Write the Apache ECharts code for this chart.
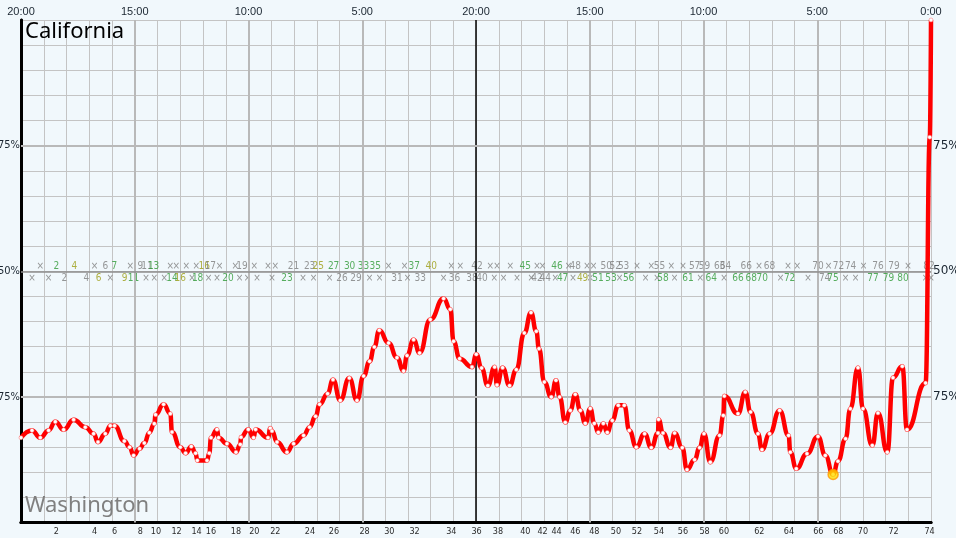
<!DOCTYPE html>
<html><head><meta charset="utf-8">
<script src="https://cdn.jsdelivr.net/npm/echarts@6/dist/echarts.min.js"></script>
<style>html,body{margin:0;padding:0;background:#f1f8fc;}#c{width:956px;height:538px;}</style>
</head><body><div id="c"></div>
<script>
const topTickLabels = ['20:00','15:00','10:00','5:00','20:00','15:00','10:00','5:00','0:00'];
const yTickValues = [25, 50, 75];
const yTickLabels = ['75%', '50%', '75%'];

const pointHours = [0.000,0.484,0.848,1.213,1.508,1.873,2.312,2.826,3.191,3.385,
3.705,3.925,4.114,4.541,4.774,4.949,5.213,5.420,5.640,5.859,
5.916,6.268,6.563,6.637,7.002,7.235,7.486,7.675,7.749,8.176,
8.277,8.352,8.615,8.686,9.055,9.451,9.640,9.670,9.991,10.224,
10.312,10.857,10.958,11.033,11.253,11.692,11.982,12.422,12.686,12.949,
13.125,13.477,13.714,14.035,14.431,14.769,15.060,15.323,15.530,15.749,
16.158,16.527,16.818,16.967,17.257,17.521,17.991,18.576,18.870,19.015,
19.279,19.824,20.013,20.246,20.519,20.818,20.923,21.169,21.477,21.771,
22.123,22.418,22.651,22.769,23.002,23.310,23.516,23.675,23.925,24.145,
24.365,24.585,24.804,25.024,25.200,25.376,25.596,25.771,25.991,26.255,
26.519,26.738,27.046,27.411,27.705,28.000,28.026,28.220,28.554,28.730,
29.068,29.275,29.609,29.829,30.022,30.299,30.708,30.870,30.914,31.516,
31.837,32.070,32.396,32.571,32.905,33.345,33.741,33.815,34.079,34.549,
35.033,35.354,35.697,35.912,36.246,36.453,36.791,37.011,37.420,37.670,
38.079,38.330,38.738,38.945,39.763,39.947,40.000];
const pointPct = [16.87,18.33,16.87,18.33,20.06,18.47,20.46,18.98,17.67,16.00,
17.67,19.26,19.26,16.20,15.00,13.35,14.68,15.80,17.87,19.66,
21.45,23.51,21.65,17.99,15.00,13.80,15.14,13.80,12.35,12.35,
13.80,16.87,18.53,16.87,15.68,14.00,15.54,16.99,18.53,16.87,
18.53,16.87,18.78,18.19,16.00,14.00,15.68,17.33,18.98,21.12,
23.51,25.64,28.43,24.30,28.75,24.30,29.14,32.07,34.92,38.25,
35.72,32.81,30.14,33.21,36.39,33.73,40.38,44.56,42.43,36.06,
32.61,30.94,33.47,30.74,27.23,30.94,27.35,30.82,27.23,30.42,
37.71,41.77,38.05,34.60,27.95,24.96,28.29,24.96,19.92,22.31,
25.50,22.31,19.72,22.71,19.72,17.93,19.72,17.93,20.32,23.31,
23.31,18.33,15.00,17.67,14.88,17.79,20.52,17.79,14.88,17.79,
14.88,10.50,12.49,14.88,17.67,12.01,17.33,21.31,25.16,21.65,
25.96,21.97,17.67,14.48,17.67,22.31,17.33,14.00,10.70,13.69,
17.13,13.35,9.56,12.21,16.67,22.65,30.82,22.65,15.34,21.77,
14.00,28.82,31.08,18.47,27.75,76.69,100];
const highlightIndex = 132;

const bottomTickIdx = [2,4,6,8,10,12,14,16,18,20,22,24,26,28,30,32,34,36,38,40,42,44,46,48,50,52,54,56,58,60,62,64,66,68,70,72,74];
const bottomTickHours = [1.552,3.235,4.114,5.244,5.934,6.840,7.719,8.352,9.451,10.255,11.178,12.703,13.758,15.103,16.189,17.301,18.914,20.026,20.967,22.167,22.927,23.543,24.365,25.200,26.154,27.077,28.044,29.099,30.048,30.901,32.453,33.758,35.046,35.925,37.011,38.356,39.938];

const upperHours = [0.848,1.552,2.343,3.235,3.705,4.101,4.804,5.244,5.538,5.829,6.563,6.826,7.266,7.705,8.057,8.321,8.730,9.420,9.714,10.255,10.857,11.178,11.982,12.686,13.068,13.741,14.444,15.059,15.574,16.158,16.862,17.288,18.035,18.914,19.310,20.044,20.629,20.923,21.508,22.167,22.681,22.927,23.560,24.070,24.365,24.879,25.169,25.727,26.123,26.488,27.077,27.705,28.070,28.585,29.099,29.609,30.048,30.708,30.971,31.881,32.440,32.905,33.714,34.123,35.033,35.499,35.938,36.466,37.037,37.670,38.374,38.989,39.912];
const upperText = ['×','2','4','×','6','7','×','9','11','13','×','×','×','×','16','17','×','×','19','×','×','×','21','23','25','27','30','33','35','×','×','37','40','×','×','42','×','×','×','45','×','×','46','×','48','×','×','50','52','53','×','×','55','×','×','57','59','63','64','66','×','68','×','×','70','×','72','74','×','76','79','×','82'];
const upperColor = 'kgokkgkkkgkkkkokkkkkkkkkoggggkkgokkkkkkgkkgkkkkkkkkkkkkkkkkkkkkkkkkkkkkkkkg';

const lowerHours = [0.484,1.213,1.903,2.870,3.411,3.925,4.554,4.949,5.495,5.859,6.299,6.637,7.002,7.516,7.763,8.246,8.615,9.099,9.609,9.960,10.374,11.033,11.692,12.396,12.862,13.565,14.110,14.725,15.323,15.763,16.527,16.993,17.552,18.576,19.059,19.824,20.264,20.804,21.213,21.802,22.431,22.681,23.046,23.486,23.807,24.264,24.686,25.024,25.363,25.934,26.312,26.708,27.455,27.956,28.220,28.730,29.319,29.859,30.343,30.901,31.516,32.101,32.585,33.389,33.785,34.593,35.323,35.692,36.246,36.686,37.451,38.136,38.769,39.763,40.0];
const lowerText = ['×','×','2','4','6','×','9','11','×','×','×','14','16','×','18','×','×','20','×','×','×','×','23','×','×','×','26','29','×','×','31','×','33','×','36','38','40','×','×','×','×','42','44','×','47','×','49','×','51','53','×','56','×','×','58','×','61','×','64','×','66','68','70','×','72','×','74','75','×','×','77','79','80','×','×'];
const lowerColor = 'kkkkokogkkkgokgkkgkkkkgkkkkkkkkkkkkkkkkkkkkkgkokggkgkkgkgkgkgggkgkkgkkgggkk';

const colorMap = {k:'#7d7d7d', o:'#9c9c12', g:'#2f9a36'};
const UPPER_ROW = 51.06, LOWER_ROW = 48.67;

function bandData(hours, texts, colors, row) {
  return hours.map((h, i) => ({
    value: [h, row],
    label: {formatter: texts[i], color: colorMap[colors[i]]}
  }));
}

const gridColor = '#c4c4c4';
const majorColor = '#b9b9b9';
const markData = [];
[5,10,15,25,30,35].forEach(h => markData.push({xAxis: h, lineStyle: {color: majorColor, width: 2, type: 'solid'}}));
markData.push({xAxis: 20, lineStyle: {color: '#000', width: 1.5, type: 'solid'}});
markData.push({yAxis: 25, lineStyle: {color: majorColor, width: 2, type: 'solid'}});
markData.push({yAxis: 75, lineStyle: {color: majorColor, width: 2, type: 'solid'}});
markData.push({yAxis: 50, lineStyle: {color: '#8e8e8e', width: 1.5, type: 'solid'}});

const chart = echarts.init(document.getElementById('c'), null, {renderer: 'canvas'});
const yLabelFmt = v => { const i = yTickValues.indexOf(v); return i >= 0 ? yTickLabels[i] : ''; };

chart.setOption({
  animation: false,
  backgroundColor: '#f1f8fc',
  grid: {left: 21, right: 25, top: 20, bottom: 15.5, containLabel: false, outerBoundsMode: 'none'},
  xAxis: [
    {type: 'value', min: 0, max: 40, interval: 1, position: 'top',
     axisLine: {show: true, lineStyle: {color: '#000', width: 3}},
     axisTick: {show: false},
     axisLabel: {formatter: v => (v % 5 === 0 ? topTickLabels[v / 5] : ''), fontSize: 11, color: '#1b2631', margin: 3, fontFamily: 'Liberation Sans'},
     splitLine: {show: true, lineStyle: {color: gridColor, width: 1}}},
    {type: 'value', min: 0, max: 40, position: 'bottom',
     axisLine: {show: true, lineStyle: {color: '#000', width: 3}},
     axisTick: {show: false},
     splitLine: {show: false},
     axisLabel: {customValues: bottomTickHours,
       formatter: v => { const i = bottomTickHours.findIndex(h => Math.abs(h - v) < 1e-6); return i >= 0 ? String(bottomTickIdx[i]) : ''; },
       fontSize: 9, color: '#2b2b2b', margin: 5, fontFamily: 'DejaVu Sans Condensed'}}
  ],
  yAxis: [
    {type: 'value', min: 0, max: 100, interval: 5, position: 'left',
     axisLine: {show: true, lineStyle: {color: '#000', width: 3}},
     axisTick: {show: false},
     axisLabel: {formatter: yLabelFmt, fontSize: 11, color: '#1b2631', margin: 1, fontFamily: 'DejaVu Sans Condensed'},
     splitLine: {show: true, lineStyle: {color: gridColor, width: 1}}},
    {type: 'value', min: 0, max: 100, interval: 5, position: 'right',
     axisLine: {show: true, lineStyle: {color: '#000', width: 2.5}},
     axisTick: {show: false},
     axisLabel: {formatter: yLabelFmt, fontSize: 12, color: '#1b2631', margin: 2, fontFamily: 'DejaVu Sans'},
     splitLine: {show: false}}
  ],
  graphic: [
    {type: 'text', left: 25, top: 21, z: 10, style: {text: 'California', fontSize: 22, fontFamily: 'Noto Sans', fill: '#000'}},
    {type: 'text', left: 25, top: 495, z: 10, style: {text: 'Washington', fontSize: 22, fontFamily: 'Noto Sans', fill: '#808080'}}
  ],
  series: [
    {type: 'scatter', xAxisIndex: 0, yAxisIndex: 0, z: 1, silent: true,
     symbolSize: 1, itemStyle: {color: 'transparent'},
     label: {show: true, position: 'inside', fontSize: 10, fontFamily: 'DejaVu Sans Condensed'},
     data: bandData(upperHours, upperText, upperColor, UPPER_ROW).concat(bandData(lowerHours, lowerText, lowerColor, LOWER_ROW)),
     markLine: {silent: true, symbol: ['none', 'none'], label: {show: false}, animation: false, data: markData}},
    {type: 'line', xAxisIndex: 0, yAxisIndex: 0, z: 5,
     data: pointHours.map((h, i) => [h, pointPct[i]]),
     smooth: 0.5, smoothMonotone: 'x',
     lineStyle: {color: '#ff0000', width: 4.5},
     symbol: 'circle', symbolSize: 4, showSymbol: true,
     itemStyle: {color: '#ffffff', borderColor: '#ff6666', borderWidth: 0.5}},
    {type: 'scatter', xAxisIndex: 0, yAxisIndex: 0, z: 6,
     data: [[pointHours[highlightIndex], pointPct[highlightIndex]]],
     symbolSize: 10, itemStyle: {color: '#ffdd00', borderColor: '#ff9900', borderWidth: 1.5}}
  ]
});
</script>
</body></html>
